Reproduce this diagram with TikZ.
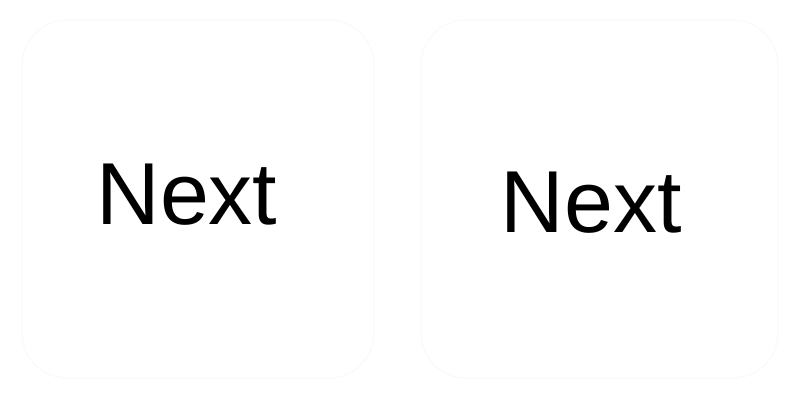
\documentclass[tikz,border=0pt]{standalone}
\usepackage{fontspec}
\setmainfont{Liberation Sans}
\tikzset{
  card/.style={draw=black!2.5, line width=1pt, fill=white, rounded corners=45pt},
  word/.style={font=\fontsize{88}{100}\selectfont, text=black, inner sep=0pt, anchor=center}
}
\begin{document}
\begin{tikzpicture}[x=1pt,y=-1pt]
\useasboundingbox (0,0) rectangle (800,400);
\fill[white] (0,0) rectangle (800,400);
\draw[card] (22,20) rectangle (374,378);
\draw[card] (421,20) rectangle (778,378);
\node[word] (n1) at (187,195) {Next};
\node[word] (n2) at (591,203) {Next};
\end{tikzpicture}
\end{document}
